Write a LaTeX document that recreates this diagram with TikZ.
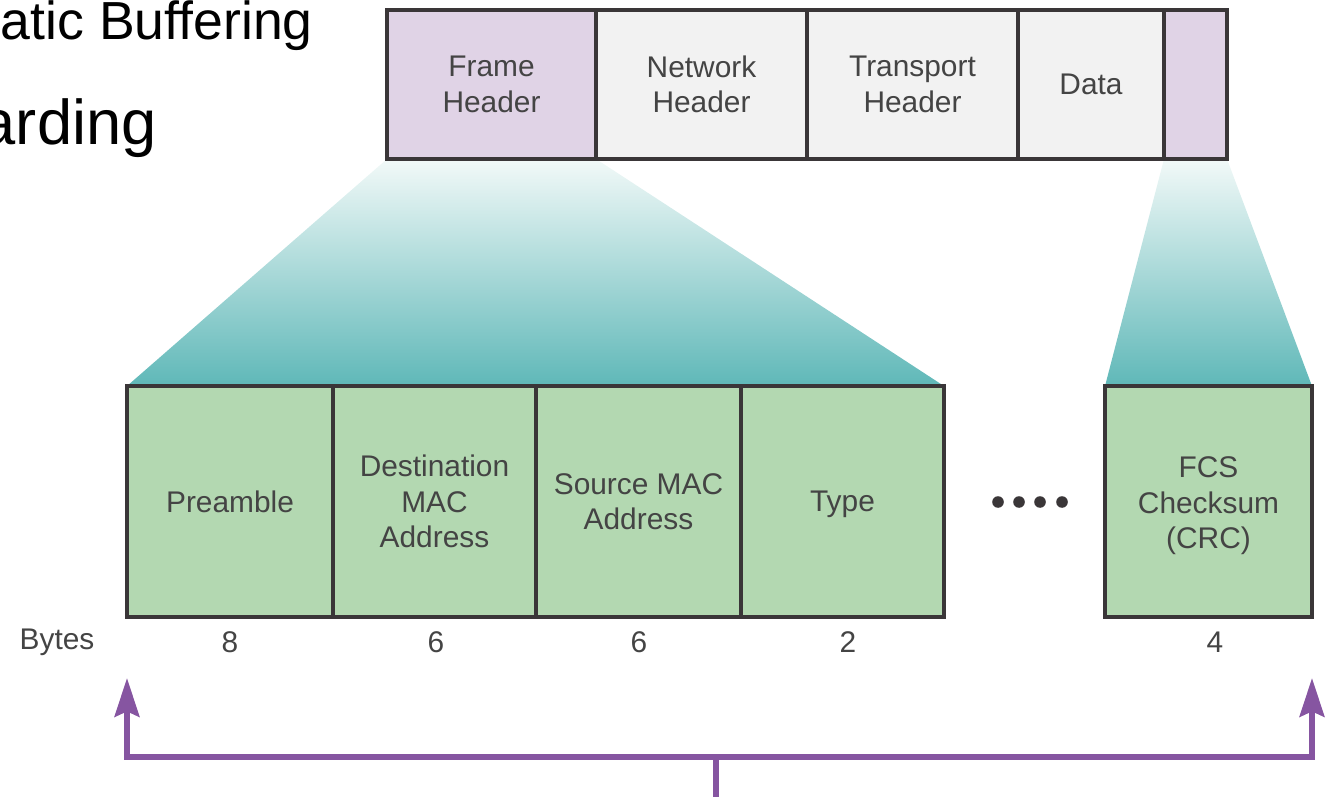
\documentclass[tikz,border=0pt]{standalone}
\usepackage{fontspec}
\setmainfont{Liberation Sans}
\usetikzlibrary{arrows.meta,backgrounds}
\definecolor{framepurple}{HTML}{E0D3E6}
\definecolor{framegrey}{HTML}{F2F2F2}
\definecolor{edgegrey}{HTML}{3A3638}
\definecolor{fieldgreen}{HTML}{B3D8B1}
\definecolor{labelgrey}{HTML}{444444}
\definecolor{tealdark}{HTML}{5FB8B8}
\definecolor{teallight}{HTML}{F2F9F8}
\definecolor{arrowpurple}{HTML}{8655A1}
\begin{document}
\begin{tikzpicture}[x=0.02cm,y=-0.02cm,
  field/.style={draw=edgegrey,line width=2.6pt,inner sep=0pt,outer sep=0pt,
    text=labelgrey,align=center,font=\fontsize{17}{20.2}\selectfont},
  hdr/.style={field,minimum height=2.98cm},
  fld/.style={field,fill=fieldgreen,minimum height=4.62cm},
  bytelbl/.style={text=labelgrey,align=center,font=\fontsize{17}{20.2}\selectfont},
  slidetext/.style={anchor=base east,inner sep=0pt},
  zoomfan/.style={top color=teallight,bottom color=tealdark},
  pointer/.style={draw=arrowpurple,line width=3.4pt,
    -{Stealth[length=22pt,width=14pt,inset=3pt]}}]
\useasboundingbox (0,0) rectangle (1326,797);
% slide text cut off at the left
\node[slidetext,font=\fontsize{30.5}{36}\selectfont] (buf) at (313,40) {atic Buffering};
\node[slidetext,font=\fontsize{36}{43}\selectfont] (fwd) at (157,145) {arding};
% frame on top
\node[hdr,fill=framepurple,minimum width=4.18cm] (fh) at (491.5,84.5) {Frame\\Header};
\node[hdr,fill=framegrey,minimum width=4.22cm] (nh) at (701.5,84.5) {Network\\Header};
\node[hdr,fill=framegrey,minimum width=4.22cm] (th) at (912.5,84.5) {Transport\\Header};
\node[hdr,fill=framegrey,minimum width=2.92cm,text depth=0pt] (dt) at (1091,84.5) {Data};
\node[hdr,fill=framepurple,minimum width=1.26cm] (tr) at (1195.5,84.5) {};
% ethernet fields
\node[fld,minimum width=4.12cm] (pre) at (230,501.5) {Preamble};
\node[fld,minimum width=4.06cm] (dst) at (434.5,501.5) {Destination\\MAC\\Address};
\node[fld,minimum width=4.10cm] (src) at (638.5,501.5) {Source MAC\\Address};
\node[fld,minimum width=4.06cm,text depth=0pt] (typ) at (842.5,501.5) {Type};
\node[fld,minimum width=4.14cm] (fcs) at (1208.5,501.5) {};
\node[bytelbl] (fcstxt) at (1208.5,506) {FCS\\Checksum\\(CRC)};
\foreach \x in {998,1019,1040,1062}
  \fill[edgegrey] (\x,502) circle (3.3pt);
% zoom fans
\begin{pgfonlayer}{background}
\shade[zoomfan] (fh.south west) -- (fh.south east) -- (typ.north east) -- (pre.north west) -- cycle;
\shade[zoomfan] (tr.south west) -- (tr.south east) -- (fcs.north east) -- (fcs.north west) -- cycle;
\end{pgfonlayer}
% byte counts
\node[bytelbl] (bl) at (57,642) {Bytes};
\node[bytelbl] (b1) at (230,642) {8};
\node[bytelbl] (b2) at (436,642) {6};
\node[bytelbl] (b3) at (639,642) {6};
\node[bytelbl] (b4) at (848,642) {2};
\node[bytelbl] (b5) at (1215,642) {4};
% span arrows
\coordinate (stem) at (716,797);
\coordinate (jn) at (716,757);
\coordinate (lt) at (127,678);
\coordinate (rt) at (1312,678);
\draw[pointer] (stem) -- (jn) -| (lt);
\draw[pointer] (jn) -| (rt);
\end{tikzpicture}
\end{document}
